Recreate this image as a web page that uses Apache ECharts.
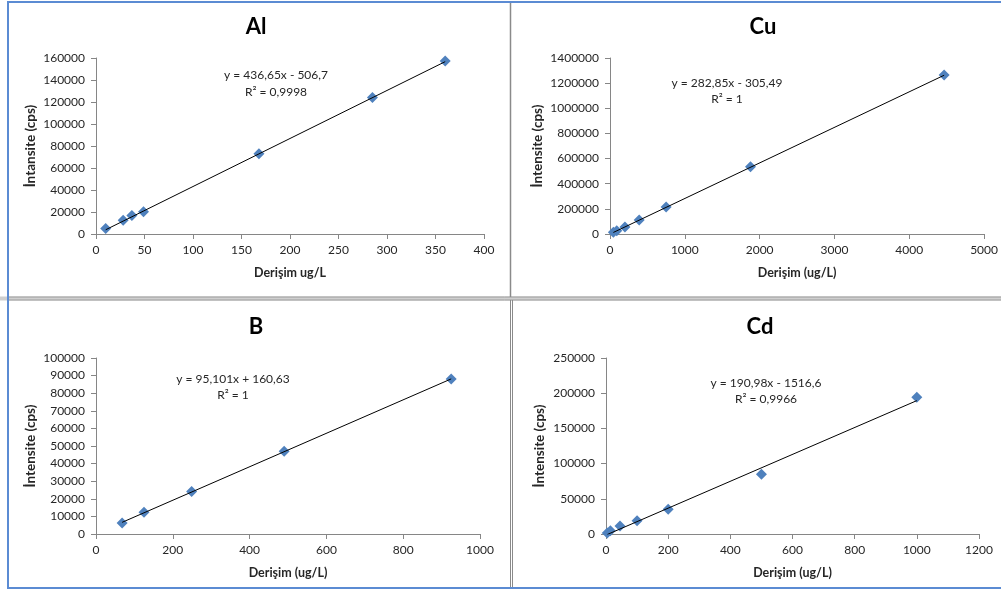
<!DOCTYPE html>
<html>
<head>
<meta charset="utf-8">
<script src="https://cdn.jsdelivr.net/npm/echarts@6/dist/echarts.min.js"></script>
<style>
html,body{margin:0;padding:0;background:#fff;}
#c{width:1001px;height:592px;}
</style>
</head>
<body>
<div id="c"></div>
<script>
// ---- data ----
const titles = ['Al', 'Cu', 'B', 'Cd'];
const xNames = ['Derişim ug/L', 'Derişim (ug/L)', 'Derişim (ug/L)', 'Derişim (ug/L)'];
const yNames = ['İntansite (cps)', 'İntensite (cps)', 'İntensite (cps)', 'İntensite (cps)'];

const alX = [10, 28, 37, 49, 168, 285, 360];
const alY = [5100, 12400, 16900, 20300, 73000, 124200, 157300];
const cuX = [45, 90, 200, 390, 750, 1878, 4466];
const cuY = [13000, 25000, 56000, 112000, 215000, 534000, 1264000];
const bX = [68, 125, 249, 490, 925];
const bY = [6300, 12300, 24200, 47000, 88000];
const cdX = [4, 14, 45, 100, 200, 500, 1000];
const cdY = [1400, 4700, 11400, 18800, 35200, 85000, 194300];

// trendline coefficients (slope, intercept) and equation labels
const slopes = [436.65, 282.85, 95.101, 190.98];
const intercepts = [-506.7, -305.49, 160.63, -1516.6];
const eqLabels = ['y = 436,65x - 506,7', 'y = 282,85x - 305,49', 'y = 95,101x + 160,63', 'y = 190,98x - 1516,6'];
const r2Labels = ['R² = 0,9998', 'R² = 1', 'R² = 1', 'R² = 0,9966'];

// axis ranges
const xMax = [400, 5000, 1000, 1200];
const xInt = [50, 1000, 200, 200];
const yMax = [160000, 1400000, 100000, 250000];
const yInt = [20000, 200000, 10000, 50000];

// ---- layout ----
const grids = [
  {left: 96, top: 58, width: 388, height: 176},
  {left: 610, top: 58, width: 378, height: 176},
  {left: 96, top: 358, width: 384, height: 176},
  {left: 606, top: 358, width: 373, height: 176}
];
const yNameGap = [58, 65, 58, 59];
const titlePos = [[256, 27], [763, 27], [256, 327], [760, 327]];
const eqPos = [[276, 75.5, 92], [727, 83.5, 99.5], [233, 379, 395], [766, 383, 399]];

const xs = [alX, cuX, bX, cdX];
const ys = [alY, cuY, bY, cdY];
const FONT = 'Lato, "Open Sans", sans-serif';
const axisCol = '#868686';
const txtCol = '#262626';

const xAxes = [], yAxes = [], series = [], graphics = [];
for (let i = 0; i < 4; i++) {
  xAxes.push({
    type: 'value', gridIndex: i, min: 0, max: xMax[i], interval: xInt[i],
    name: xNames[i], nameLocation: 'middle', nameGap: 32,
    nameTextStyle: {fontFamily: FONT, fontWeight: 'bold', fontSize: 12.5, color: txtCol},
    axisLine: {show: true, lineStyle: {color: axisCol, width: 1}},
    axisTick: {show: true, length: 5, lineStyle: {color: axisCol}},
    axisLabel: {fontFamily: FONT, fontSize: 12, color: txtCol, margin: 10, formatter: v => String(v)},
    splitLine: {show: false}
  });
  yAxes.push({
    type: 'value', gridIndex: i, min: 0, max: yMax[i], interval: yInt[i],
    name: yNames[i], nameLocation: 'middle', nameGap: yNameGap[i], nameRotate: 90,
    nameTextStyle: {fontFamily: FONT, fontWeight: 'bold', fontSize: 13.5, color: txtCol},
    axisLine: {show: true, lineStyle: {color: axisCol, width: 1}},
    axisTick: {show: true, length: 5, lineStyle: {color: axisCol}},
    axisLabel: {fontFamily: FONT, fontSize: 12, color: txtCol, margin: 11, formatter: v => String(v)},
    splitLine: {show: false}
  });
  const pts = xs[i].map((x, k) => [x, ys[i][k]]);
  series.push({
    type: 'scatter', xAxisIndex: i, yAxisIndex: i, data: pts,
    symbol: 'diamond', symbolSize: [11, 11],
    itemStyle: {color: '#4F81BD', opacity: 1}, z: 2, silent: true
  });
  const x0 = Math.min(...xs[i]), x1 = Math.max(...xs[i]);
  series.push({
    type: 'line', xAxisIndex: i, yAxisIndex: i,
    data: [[x0, slopes[i] * x0 + intercepts[i]], [x1, slopes[i] * x1 + intercepts[i]]],
    symbol: 'none', lineStyle: {color: '#000', width: 1}, z: 3, silent: true, animation: false
  });
  graphics.push({
    type: 'text', x: titlePos[i][0], y: titlePos[i][1], z: 10,
    style: {text: titles[i], font: 'bold 22px ' + FONT, fill: '#000', textAlign: 'center', textVerticalAlign: 'middle'}
  });
  graphics.push({
    type: 'text', x: eqPos[i][0], y: eqPos[i][1], z: 10,
    style: {text: eqLabels[i], font: '12px ' + FONT, fill: txtCol, textAlign: 'center', textVerticalAlign: 'middle'}
  });
  graphics.push({
    type: 'text', x: eqPos[i][0], y: eqPos[i][2], z: 10,
    style: {text: r2Labels[i], font: '12px ' + FONT, fill: txtCol, textAlign: 'center', textVerticalAlign: 'middle'}
  });
}

// panel borders
graphics.push(
  {type: 'rect', z: 0, shape: {x: 0, y: 296.5, width: 1001, height: 4}, style: {fill: '#cfcfcf'}},
  {type: 'line', z: 1, shape: {x1: 8, y1: 297, x2: 1001, y2: 297}, style: {stroke: '#9c9c9c', lineWidth: 1}},
  {type: 'line', z: 1, shape: {x1: 8, y1: 300, x2: 1001, y2: 300}, style: {stroke: '#9c9c9c', lineWidth: 1}},
  {type: 'line', z: 1, shape: {x1: 510.5, y1: 2, x2: 510.5, y2: 297}, style: {stroke: '#8a8a8a', lineWidth: 1.5}},
  {type: 'line', z: 1, shape: {x1: 510.5, y1: 300, x2: 510.5, y2: 588}, style: {stroke: '#8a8a8a', lineWidth: 1}},
  {type: 'line', z: 1, shape: {x1: 512.5, y1: 300, x2: 512.5, y2: 588}, style: {stroke: '#8a8a8a', lineWidth: 1}},
  {type: 'rect', z: 5, shape: {x: 8, y: 2, width: 1000, height: 586}, style: {fill: 'none', stroke: '#5b8bd3', lineWidth: 2}}
);

const chart = echarts.init(document.getElementById('c'), null, {renderer: 'canvas'});
chart.setOption({
  animation: false,
  backgroundColor: '#fff',
  grid: grids,
  xAxis: xAxes,
  yAxis: yAxes,
  series: series,
  graphic: graphics
});
</script>
</body>
</html>
